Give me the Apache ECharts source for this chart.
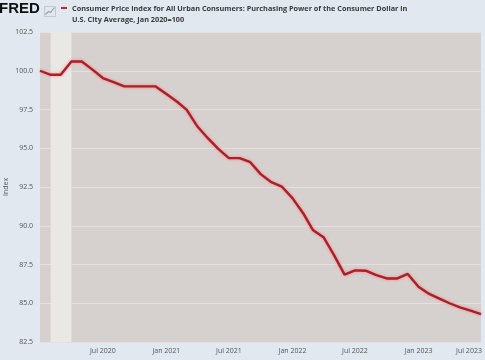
<!DOCTYPE html>
<html>
<head>
<meta charset="utf-8">
<script src="https://cdn.jsdelivr.net/npm/echarts@6/dist/echarts.min.js"></script>
<style>
html,body{margin:0;padding:0;background:#e1e8ef;}
#chart{width:485px;height:360px;}
</style>
</head>
<body>
<div id="chart"></div>
<script>
// ---- Data ----
const months = [
  '2020-01-01','2020-02-01','2020-03-01','2020-04-01','2020-05-01','2020-06-01',
  '2020-07-01','2020-08-01','2020-09-01','2020-10-01','2020-11-01','2020-12-01',
  '2021-01-01','2021-02-01','2021-03-01','2021-04-01','2021-05-01','2021-06-01',
  '2021-07-01','2021-08-01','2021-09-01','2021-10-01','2021-11-01','2021-12-01',
  '2022-01-01','2022-02-01','2022-03-01','2022-04-01','2022-05-01','2022-06-01',
  '2022-07-01','2022-08-01','2022-09-01','2022-10-01','2022-11-01','2022-12-01',
  '2023-01-01','2023-02-01','2023-03-01','2023-04-01','2023-05-01','2023-06-01',
  '2023-07-01'
];
const purchasingPower = [
  100.0, 99.74, 99.74, 100.6, 100.6, 100.07, 99.53, 99.26, 98.99, 98.99, 98.99, 98.99,
  98.5, 98.0, 97.48, 96.4, 95.65, 94.94, 94.36, 94.36, 94.1, 93.33, 92.81, 92.53,
  91.78, 90.81, 89.73, 89.26, 88.12, 86.85, 87.12, 87.1, 86.82, 86.6, 86.6, 86.89,
  86.07, 85.6, 85.32, 85.0, 84.74, 84.52, 84.3
];
const recession = ['2020-02-01', '2020-04-01'];
const xTickDates = ['2020-07-01','2021-01-01','2021-07-01','2022-01-01','2022-07-01','2023-01-01','2023-07-01'];
const xTickLabels = ['Jul 2020','Jan 2021','Jul 2021','Jan 2022','Jul 2022','Jan 2023','Jul 2023'];
const yTicks = [82.5, 85.0, 87.5, 90.0, 92.5, 95.0, 97.5, 100.0, 102.5];
const seriesName = 'Consumer Price Index for All Urban Consumers: Purchasing Power of the Consumer Dollar in\nU.S. City Average, Jan 2020=100';

function ts(s){ const p = s.split('-').map(Number); return Date.UTC(p[0], p[1]-1, p[2]); }
const xTickTs = xTickDates.map(ts);

const chart = echarts.init(document.getElementById('chart'), null, {renderer:'canvas'});
const FONT = "'Open Sans', 'DejaVu Sans', sans-serif";

chart.setOption({
  backgroundColor: '#e1e8ef',
  animation: false,
  title: {
    text: seriesName,
    left: 72, top: 3, padding: 0,
    textStyle: { fontFamily: FONT, fontSize: 7.3, fontWeight: 'bold', color: '#3a3a3a', lineHeight: 11 }
  },
  graphic: [
    { type: 'text', left: -1, top: 1,
      style: { text: 'FRED', font: "bold 15px 'Liberation Sans', Arial, sans-serif", fill: '#111' } },
    { type: 'group', left: 42, top: 4, children: [
      { type: 'rect', shape: {x:0, y:0, width: 11, height: 10}, style: { fill: 'none', stroke: '#c3c8cc', lineWidth: 1 } },
      { type: 'polyline', shape: { points: [[1,8],[4,5],[6,6],[10,1]] }, style: { stroke: '#9aa3a9', lineWidth: 1.2, fill: 'none' } }
    ]},
    { type: 'rect', left: 61, top: 7, shape: { width: 6, height: 2 }, style: { fill: '#c4222b' } }
  ],
  grid: {
    left: 40, right: 4, top: 32, bottom: 18,
    outerBoundsMode: 'none', containLabel: false,
    show: true, backgroundColor: '#d6d1ce', borderWidth: 0
  },
  xAxis: {
    type: 'value',
    min: ts(months[0]),
    max: ts(months[months.length-1]),
    axisLine: { show: false },
    axisTick: { show: false },
    splitLine: { show: false },
    axisLabel: {
      customValues: xTickTs,
      hideOverlap: false,
      margin: 5,
      fontFamily: FONT, fontSize: 7, color: '#555',
      formatter: function (v) {
        const i = xTickTs.indexOf(v);
        const lab = i >= 0 ? xTickLabels[i] : '';
        if (i === xTickTs.length - 1) return '{r|' + lab + '}';
        return lab;
      },
      rich: { r: { fontFamily: FONT, fontSize: 7, color: '#555', padding: [0, 24, 0, 0] } }
    }
  },
  yAxis: {
    type: 'value',
    min: yTicks[0], max: yTicks[yTicks.length-1], interval: 2.5,
    name: 'Index', nameLocation: 'middle', nameGap: 31, nameMoveOverlap: false,
    nameTextStyle: { fontFamily: FONT, fontSize: 7, color: '#555' },
    axisLine: { show: false },
    axisTick: { show: false },
    splitLine: { lineStyle: { color: '#e3e0dd', width: 1 } },
    axisLabel: {
      margin: 7, fontFamily: FONT, fontSize: 7, color: '#555',
      formatter: v => v.toFixed(1)
    }
  },
  series: [{
    type: 'line',
    name: seriesName,
    data: months.map((m, i) => [ts(m), purchasingPower[i]]),
    showSymbol: false,
    lineStyle: { color: '#ad1f28', width: 2.4, shadowColor: 'rgba(240,120,125,0.9)', shadowBlur: 3 },
    markArea: {
      silent: true,
      itemStyle: { color: '#e9e8e5' },
      data: [[{ xAxis: ts(recession[0]) }, { xAxis: ts(recession[1]) }]]
    },
    z: 3
  }]
});
</script>
</body>
</html>
